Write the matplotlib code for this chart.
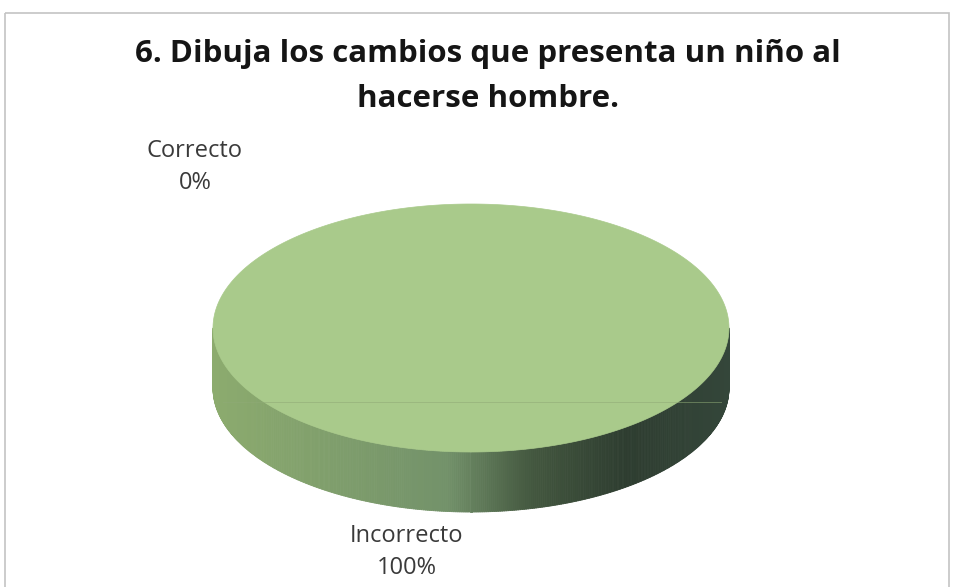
import numpy as np
import matplotlib
matplotlib.use("Agg")
import matplotlib.pyplot as plt
from matplotlib.patches import Polygon, Rectangle
from matplotlib.collections import PolyCollection
from matplotlib.colors import LinearSegmentedColormap

# datos
labels = ["Correcto", "Incorrecto"]
values = [0, 100]
title = "6. Dibuja los cambios que presenta un niño al\nhacerse hombre."

top_color = "#a9ca8b"
side_cmap = LinearSegmentedColormap.from_list(
    "side", [(0.0, "#8cab6e"), (0.45, "#73926a"), (0.62, "#43573f"),
             (0.8, "#2e3d30"), (1.0, "#34463a")])

plt.rcParams['font.family'] = ['Open Sans', 'DejaVu Sans']

fig = plt.figure(figsize=(9.57, 5.87), dpi=100)
ax = fig.add_axes([0, 0, 1, 1])
ax.set_xlim(0, 957)
ax.set_ylim(587, 0)
ax.axis("off")

# marco del grafico
ax.add_patch(Rectangle((5, 13), 944, 590, fill=False, ec="#c4c4c4", lw=1.2))

# titulo, una linea por vez
for line, base in zip(title.split("\n"), [62, 107]):
    ax.text(488, base, line, ha="center", va="baseline", fontsize=22.5,
            fontweight="bold", color="#151515")

# geometria del pastel 3D
cx, cy, rx, ry, depth = 471, 328, 258, 124, 60

# pared lateral (mitad frontal)
t = np.linspace(0, np.pi, 400)
xs = cx + rx * np.cos(t)
ys = cy + ry * np.sin(t)
quads = []
cols = []
for i in range(len(t) - 1):
    quads.append([(xs[i], ys[i]), (xs[i + 1], ys[i + 1]),
                  (xs[i + 1], ys[i + 1] + depth), (xs[i], ys[i] + depth)])
    frac = ((xs[i] + xs[i + 1]) / 2 - (cx - rx)) / (2 * rx)
    cols.append(side_cmap(frac))
ax.add_collection(PolyCollection(quads, facecolors=cols, edgecolors=cols, lw=0.6))

# cara superior: una cuña por valor, empezando arriba en sentido horario
total = sum(values)
start = -np.pi / 2
for lab, v in zip(labels, values):
    span = 2 * np.pi * v / total
    if span <= 0:
        continue
    a = np.linspace(start, start + span, 400)
    pts = np.column_stack([cx + rx * np.cos(a), cy + ry * np.sin(a)])
    if span < 2 * np.pi:
        pts = np.vstack([[cx, cy], pts])
    ax.add_patch(Polygon(pts, closed=True, fc=top_color, ec=top_color, lw=0.5))
    start += span

# linea tenue que cruza la cara (como en la imagen)
ax.plot([cx - rx + 10, cx + rx - 8], [402, 402], color="#8faa76", lw=0.7, alpha=0.55)

# etiquetas de datos
pct = [f"{v / total * 100:.0f}%" for v in values]
label_pos = [(195, 157), (407, 542)]
for lab, p, (lx, ly) in zip(labels, pct, label_pos):
    ax.text(lx, ly, lab, ha="center", va="baseline", fontsize=17, color="#3a3a3a")
    ax.text(lx, ly + 32, p, ha="center", va="baseline", fontsize=17, color="#3a3a3a")

fig.savefig("out.png", dpi=100)
